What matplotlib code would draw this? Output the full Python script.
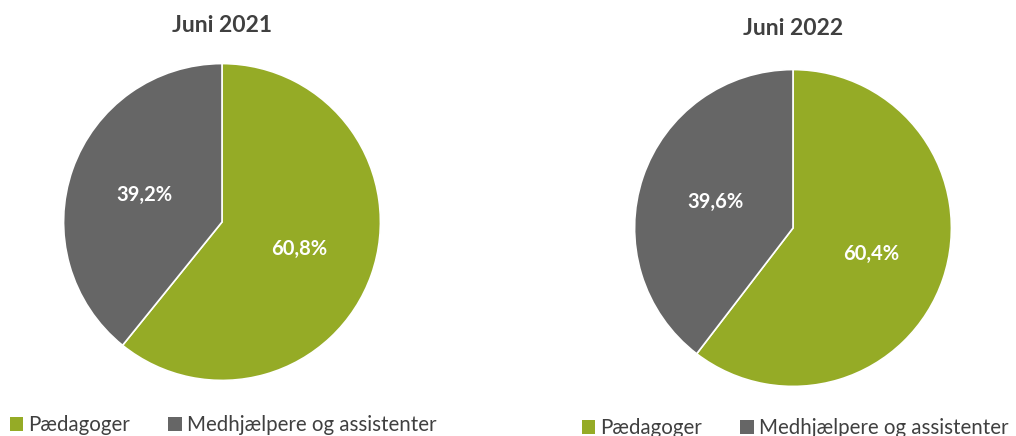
import matplotlib.pyplot as plt
from matplotlib.patches import Patch

plt.rcParams['font.family'] = ['Lato', 'DejaVu Sans']

categories = ["Pædagoger", "Medhjælpere og assistenter"]
titles = ["Juni 2021", "Juni 2022"]
shares_2021 = [60.8, 39.2]
shares_2022 = [60.4, 39.6]
colors = ["#95AB26", "#666666"]
text_color = "#404040"

W, H = 1016, 436
fig = plt.figure(figsize=(W / 100, H / 100), dpi=100)


def px_axes(cx, cy, r):
    return fig.add_axes([(cx - r) / W, (H - cy - r) / H, 2 * r / W, 2 * r / H])


def fmt(p):
    return f"{p:.1f}%".replace(".", ",")


panels = [
    (shares_2021, titles[0], (222, 222, 160), (222, 25), (10, 425)),
    (shares_2022, titles[1], (793, 228, 160), (793, 28), (582, 428)),
]

for values, title, (cx, cy, r), (tx, ty), (lx, ly) in panels:
    ax = px_axes(cx, cy, r)
    ax.pie(values, colors=colors, startangle=90, counterclock=False,
           autopct=fmt, pctdistance=0.52, radius=1,
           wedgeprops=dict(edgecolor="white", linewidth=1.2),
           textprops=dict(color="white", fontsize=14.5, fontweight="bold"))
    ax.set_xlim(-1.01, 1.01)
    ax.set_ylim(-1.01, 1.01)
    fig.text(tx / W, 1 - ty / H, title, ha="center", va="center",
             fontsize=16.5, fontweight="bold", color=text_color)
    handles = [Patch(facecolor=c, edgecolor="none") for c in colors]
    fig.legend(handles, categories, loc="center left",
               bbox_to_anchor=(lx / W, 1 - ly / H), ncol=2, frameon=False,
               fontsize=14.8, handlelength=0.65, handleheight=0.65,
               handletextpad=0.25, columnspacing=1.85, borderaxespad=0,
               borderpad=0, labelcolor=text_color)

fig.savefig("out.png", dpi=100)
